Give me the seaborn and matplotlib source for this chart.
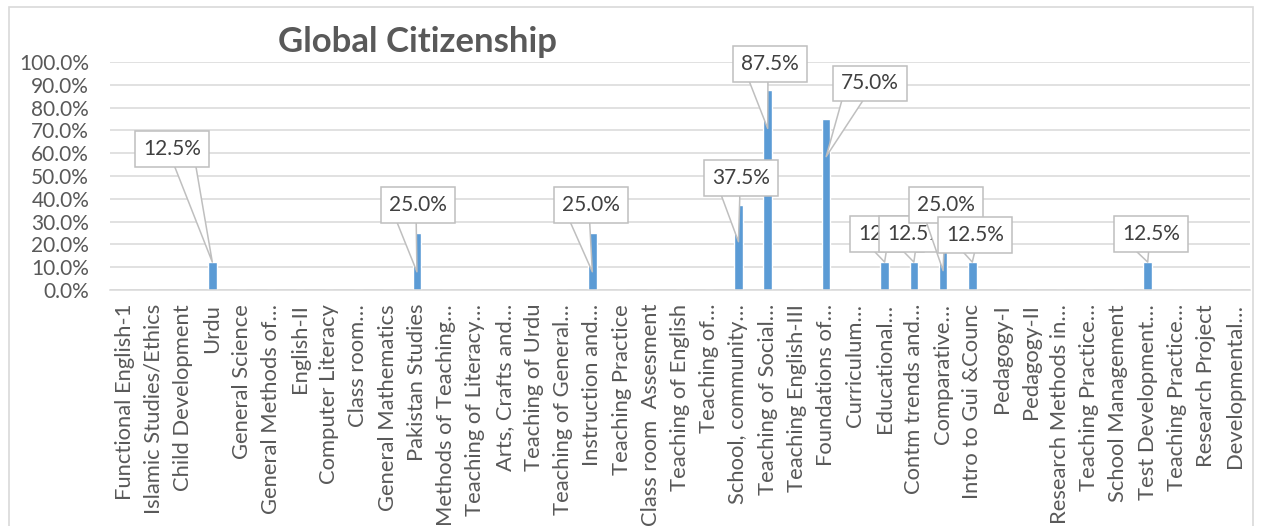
import matplotlib
matplotlib.use("Agg")
import matplotlib.pyplot as plt
from matplotlib.patches import Rectangle
import seaborn as sns
import pandas as pd

# Courses and the share of each that addresses global citizenship
courses = [
    "Functional English-1", "Islamic Studies/Ethics", "Child Development", "Urdu",
    "General Science", "General Methods of…", "English-II", "Computer Literacy",
    "Class room…", "General Mathematics", "Pakistan Studies", "Methods of Teaching…",
    "Teaching of Literacy…", "Arts, Crafts and…", "Teaching of Urdu",
    "Teaching of General…", "Instruction and…", "Teaching Practice",
    "Class room  Assesment", "Teaching of English", "Teaching of…",
    "School, community…", "Teaching of Social…", "Teaching English-III",
    "Foundations of…", "Curriculum…", "Educational…", "Contm trends and…",
    "Comparative…", "Intro to Gui &Counc", "Pedagogy-I", "Pedagogy-II",
    "Research Methods in…", "Teaching Practice…", "School Management",
    "Test Development…", "Teaching Practice…", "Research Project",
    "Developmental…",
]
shares = [
    0.0, 0.0, 0.0, 0.125,
    0.0, 0.0, 0.0, 0.0,
    0.0, 0.0, 0.25, 0.0,
    0.0, 0.0, 0.0,
    0.0, 0.25, 0.0,
    0.0, 0.0, 0.0,
    0.375, 0.875, 0.0,
    0.75, 0.0, 0.125, 0.125,
    0.25, 0.125, 0.0, 0.0,
    0.0, 0.0, 0.0,
    0.125, 0.0, 0.0,
    0.0,
]
y_ticks = [0.0, 0.1, 0.2, 0.3, 0.4, 0.5, 0.6, 0.7, 0.8, 0.9, 1.0]
title = "Global Citizenship"

# Callout layout: course index -> (box x, box y, pointer tip as fraction of bar, pointer base position)
callouts = {
    3: (1.62, 0.618, 0.98, 0.68),
    10: (10.04, 0.371, 0.32, 0.27),
    16: (15.96, 0.371, 0.32, 0.27),
    21: (21.09, 0.493, 0.565, 0.29),
    22: (22.08, 0.993, 0.81, 0.27),
    24: (25.50, 0.906, 0.78, 0.27),
    26: (26.08, 0.246, 0.98, 0.34),
    27: (27.07, 0.246, 0.98, 0.34),
    28: (28.10, 0.373, 0.34, 0.30),
    29: (29.09, 0.241, 0.98, 0.36),
    35: (35.11, 0.246, 0.98, 0.30),
}

sns.set_theme(style="white")
plt.rcParams["font.family"] = ["Lato", "DejaVu Sans"]

W, H = 1261, 526
fig = plt.figure(figsize=(W / 100, H / 100), dpi=100)
ax = fig.add_axes([110 / W, 1 - 290 / H, (1250 - 110) / W, (290 - 62) / H])

df = pd.DataFrame({"pos": list(range(len(courses))), "share": shares})
sns.barplot(data=df, x="pos", y="share", color="#5B9BD5", width=0.29,
            saturation=1, ax=ax, zorder=2)

grid = "#D9D9D9"
text_grey = "#595959"
ax.set_ylim(0, 1)
ax.set_xlim(-0.5, len(courses) - 0.5)
ax.set_yticks(y_ticks)
ax.set_yticklabels([f"{t:.1%}" for t in y_ticks], color=text_grey, fontsize=15)
ax.set_xticks(range(len(courses)))
ax.set_xticklabels(courses, rotation=90, color=text_grey, fontsize=15.8,
                   ha="center", va="top")
ax.tick_params(axis="y", length=0, pad=15)
ax.tick_params(axis="x", length=0, pad=10)
ax.yaxis.grid(True, color=grid, lw=1.1, zorder=0)
ax.set_axisbelow(True)
for side in ["top", "right", "left"]:
    ax.spines[side].set_visible(False)
ax.spines["bottom"].set_color(grid)
ax.spines["bottom"].set_linewidth(1.1)
ax.set_xlabel("")
ax.set_ylabel("")

# Data callouts
box_edge = "#BFBFBF"
for i, v in enumerate(shares):
    if v <= 0:
        continue
    bx, by, tip, rx = callouts[i]
    ax.annotate(
        f"{v:.1%}", xy=(i, v * tip), xytext=(bx, by), textcoords="data",
        ha="center", va="center", fontsize=15, color="#404040",
        bbox=dict(boxstyle="square,pad=0.38", fc="white", ec=box_edge, lw=1.1),
        arrowprops=dict(arrowstyle="wedge,tail_width=1.1,shrink_factor=0.5",
                        fc="white", ec=box_edge, lw=1.1, relpos=(rx, 0.2),
                        patchA=None, shrinkA=0, shrinkB=0),
        zorder=5, annotation_clip=False,
    )

fig.text(418 / W, 1 - 42 / H, title, ha="center", va="center",
         fontsize=25, fontweight="bold", color=text_grey)

# Chart frame
fig.patches.append(Rectangle((9 / W, -0.02), (1253 - 9) / W, 1.02 - 7 / H,
                             transform=fig.transFigure, fill=False,
                             ec=grid, lw=1.2, zorder=0))

fig.savefig("out.png", dpi=100, facecolor="white")
